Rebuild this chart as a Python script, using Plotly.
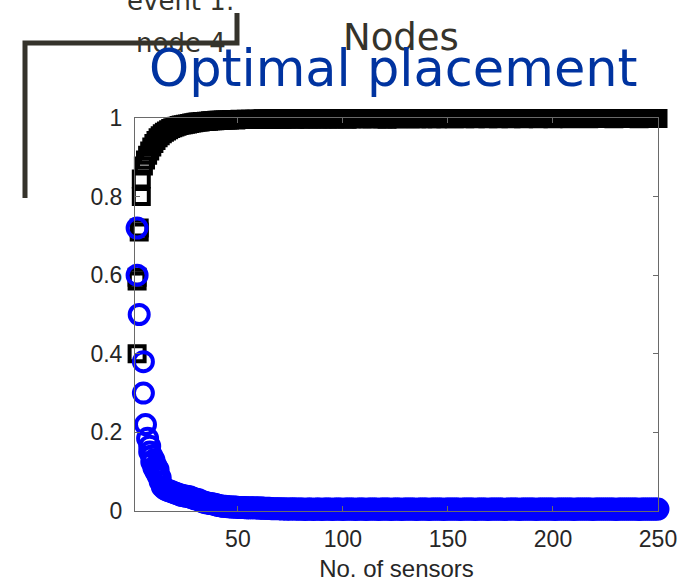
import plotly.graph_objects as go

# ---------------- data ----------------
# black squares (nodes) – early scattered points, then one value per sensor count
black_early_x = [2, 2, 2, 3, 3, 4, 4, 5]
black_early_y = [0.40, 0.595, 0.585, 0.72, 0.71, 0.80, 0.845, 0.878]
black_tail_start = 6
black_tail_y = [
    0.893, 0.905, 0.916, 0.926, 0.935, 0.943, 0.950, 0.955, 0.960, 0.964,
    0.967, 0.970, 0.973, 0.975, 0.977, 0.979, 0.981, 0.982, 0.983, 0.984,
    0.985, 0.986, 0.987, 0.988, 0.989, 0.990, 0.990, 0.991, 0.991, 0.992,
    0.992, 0.993, 0.993, 0.993, 0.994, 0.994, 0.994, 0.995, 0.995, 0.995,
    0.995, 0.996, 0.996, 0.995, 0.996, 0.997, 0.996, 0.996, 0.997, 0.996,
    0.997, 0.996, 0.997, 0.997, 0.996, 0.997, 0.998, 0.997, 0.997, 0.998,
    0.997, 0.998, 0.997, 0.998, 0.998, 0.997, 0.998, 0.998, 0.999, 0.998,
    0.998, 0.997, 0.998, 0.999, 0.998, 0.998, 0.999, 0.998, 0.997, 0.998,
    0.999, 0.998, 0.998, 0.999, 0.998, 0.999, 0.998, 0.997, 0.999, 0.998,
    0.998, 0.999, 0.998, 0.999, 0.999, 0.998, 0.997, 0.999, 0.998, 0.999,
    0.999, 0.998, 0.999, 0.998, 0.999, 0.999, 0.998, 0.999, 0.998, 0.999,
    0.998, 0.999, 0.999, 0.998, 0.999, 0.997, 0.999, 0.998, 0.999, 0.999,
    0.998, 0.999, 0.999, 0.998, 0.999, 0.999, 0.998, 0.999, 0.999, 0.998,
    0.999, 0.999, 0.998, 0.999, 0.999, 0.999, 0.998, 0.999, 0.999, 0.998,
    0.999, 0.999, 0.999, 0.998, 0.999, 0.999, 0.999, 0.998, 0.999, 0.999,
    0.999, 0.999, 0.998, 0.999, 0.999, 0.999, 0.999, 0.998, 0.999, 0.999,
    0.999, 0.999, 0.999, 0.998, 0.999, 0.999, 0.999, 0.999, 0.998, 0.999,
    0.999, 0.999, 0.999, 0.999, 0.998, 0.999, 0.999, 0.999, 0.999, 0.999,
    0.998, 0.999, 0.999, 0.999, 0.999, 0.999, 0.999, 0.998, 0.999, 0.999,
    0.999, 0.999, 0.999, 0.999, 0.998, 0.999, 0.999, 0.999, 0.999, 0.999,
    0.999, 0.999, 0.998, 0.999, 0.999, 0.999, 0.999, 0.999, 0.999, 0.999,
    0.999, 0.998, 0.999, 0.999, 0.999, 0.999, 0.999, 0.999, 0.999, 0.999,
    0.999, 0.999, 0.999, 0.998, 0.999, 0.999, 0.999, 0.999, 0.999, 0.999,
    0.999, 0.999, 0.999, 0.999, 0.999, 0.998, 0.999, 0.999, 0.999, 0.999,
    0.999, 0.999, 0.999, 0.999, 0.999,
]

# blue circles – early scattered points, then one value per sensor count
blue_early_x = [2, 2, 3, 5, 5, 6, 7, 8, 8, 9, 9, 10, 10, 11, 11, 12, 12, 13, 13]
blue_early_y = [0.72, 0.60, 0.50, 0.38, 0.30, 0.22, 0.185, 0.165, 0.15, 0.14,
                0.125, 0.13, 0.11, 0.115, 0.10, 0.105, 0.09, 0.085, 0.075]
blue_tail_start = 14
blue_tail_y = [
    0.062, 0.057, 0.054, 0.052, 0.050, 0.048, 0.046, 0.044, 0.042, 0.040,
    0.039, 0.038, 0.037, 0.036, 0.034, 0.032, 0.030, 0.029, 0.027, 0.024,
    0.022, 0.021, 0.020, 0.019, 0.018, 0.017, 0.015, 0.014, 0.013, 0.012,
    0.012, 0.011, 0.011, 0.010, 0.010, 0.010, 0.009, 0.009, 0.009, 0.009,
    0.008, 0.008, 0.008, 0.008, 0.008, 0.008, 0.007, 0.008, 0.007, 0.007,
    0.007, 0.007, 0.006, 0.006, 0.006, 0.006, 0.006, 0.005, 0.006, 0.005,
    0.005, 0.005, 0.006, 0.005, 0.005, 0.005, 0.005, 0.005, 0.004, 0.005,
    0.005, 0.005, 0.004, 0.005, 0.005, 0.005, 0.004, 0.005, 0.005, 0.005,
    0.005, 0.004, 0.005, 0.005, 0.005, 0.005, 0.004, 0.005, 0.005, 0.005,
    0.005, 0.005, 0.004, 0.005, 0.005, 0.005, 0.005, 0.004, 0.005, 0.005,
    0.005, 0.005, 0.005, 0.004, 0.005, 0.005, 0.005, 0.005, 0.005, 0.004,
    0.005, 0.005, 0.005, 0.005, 0.004, 0.005, 0.005, 0.005, 0.005, 0.005,
    0.005, 0.004, 0.005, 0.005, 0.005, 0.005, 0.005, 0.004, 0.005, 0.005,
    0.005, 0.005, 0.005, 0.005, 0.004, 0.005, 0.005, 0.005, 0.005, 0.005,
    0.005, 0.005, 0.004, 0.005, 0.005, 0.005, 0.005, 0.005, 0.005, 0.004,
    0.005, 0.005, 0.005, 0.005, 0.005, 0.004, 0.005, 0.005, 0.005, 0.005,
    0.005, 0.005, 0.005, 0.004, 0.005, 0.005, 0.005, 0.005, 0.005, 0.005,
    0.004, 0.005, 0.005, 0.005, 0.005, 0.005, 0.005, 0.005, 0.004, 0.005,
    0.005, 0.005, 0.005, 0.005, 0.005, 0.005, 0.005, 0.004, 0.005, 0.005,
    0.005, 0.005, 0.005, 0.005, 0.005, 0.005, 0.004, 0.005, 0.005, 0.005,
    0.005, 0.005, 0.005, 0.005, 0.005, 0.004, 0.005, 0.005, 0.005, 0.005,
    0.005, 0.005, 0.005, 0.005, 0.005, 0.005, 0.004, 0.005, 0.005, 0.005,
    0.005, 0.005, 0.005, 0.005, 0.005, 0.005, 0.005, 0.004, 0.005, 0.005,
    0.005, 0.005, 0.005, 0.005, 0.005, 0.005, 0.005,
]

x_tick_vals = [50, 100, 150, 200, 250]
x_tick_text = ["50", "100", "150", "200", "250"]
y_tick_vals = [0, 0.2, 0.4, 0.6, 0.8, 1.0]
y_tick_text = ["0", "0.2", "0.4", "0.6", "0.8", "1"]

title_text = "Optimal placement"
overlay_title = "Nodes"
callout_lines = ["event 1:", "node 4"]
x_label = "No. of sensors"

# ---------------- figure ----------------
W, H = 689, 585
ML, MR, MT, MB = 135, 31, 118, 74
PW, PH = W - ML - MR, H - MT - MB


def px(xp):
    return (xp - ML) / PW


def py(yp):
    return (H - MB - yp) / PH


black_x = black_early_x + list(range(black_tail_start, black_tail_start + len(black_tail_y)))
black_y = black_early_y + black_tail_y
blue_x = blue_early_x + list(range(blue_tail_start, blue_tail_start + len(blue_tail_y)))
blue_y = blue_early_y + blue_tail_y

fig = go.Figure()
fig.add_trace(go.Scatter(
    x=black_x, y=black_y, mode="markers", cliponaxis=False,
    marker=dict(symbol="square-open", size=15, color="#000000",
                line=dict(width=4, color="#000000")),
    showlegend=False, hoverinfo="skip"))
fig.add_trace(go.Scatter(
    x=blue_x, y=blue_y, mode="markers", cliponaxis=False,
    marker=dict(symbol="circle-open", size=19, color="#0000ff",
                line=dict(width=4, color="#0000ff")),
    showlegend=False, hoverinfo="skip"))

axis_common = dict(
    showline=True, linecolor="#6a6a6a", linewidth=1, mirror="ticks",
    ticks="inside", ticklen=5, tickwidth=1, tickcolor="#6a6a6a",
    showgrid=False, zeroline=False, automargin=False,
    tickfont=dict(family="Liberation Sans, Arial", size=23, color="#262626"),
)

fig.update_xaxes(range=[1, 250], tickvals=x_tick_vals, ticktext=x_tick_text,
                 ticklabelstandoff=7,
                 title=dict(text=x_label, standoff=9,
                            font=dict(family="Liberation Sans, Arial", size=24, color="#262626")),
                 **axis_common)
fig.update_yaxes(range=[0, 1], tickvals=y_tick_vals, ticktext=y_tick_text,
                 ticklabelstandoff=7, **axis_common)

# callout bracket lines
line_color = "#35332b"
fig.add_shape(type="path",
              path=f"M {px(25)},{py(198)} L {px(25)},{py(43)} L {px(237)},{py(43)} L {px(237)},{py(13)}",
              xref="paper", yref="paper", line=dict(color=line_color, width=5), layer="above")

ann_font = "DejaVu Sans"
fig.add_annotation(text=callout_lines[0], x=px(181), y=py(18), xref="paper", yref="paper",
                   xanchor="center", yanchor="bottom", showarrow=False,
                   font=dict(family=ann_font, size=26, color=line_color))
fig.add_annotation(text=callout_lines[1], x=px(181), y=py(60), xref="paper", yref="paper",
                   xanchor="center", yanchor="bottom", showarrow=False,
                   font=dict(family=ann_font, size=26, color=line_color))
fig.add_annotation(text=overlay_title, x=px(401), y=py(61), xref="paper", yref="paper",
                   xanchor="center", yanchor="bottom", showarrow=False,
                   font=dict(family=ann_font, size=37, color=line_color))
fig.add_annotation(text=title_text, x=px(393), y=py(100), xref="paper", yref="paper",
                   xanchor="center", yanchor="bottom", showarrow=False,
                   font=dict(family="DejaVu Sans", size=51, color="#0033a0"))

fig.update_layout(
    width=W, height=H, margin=dict(l=ML, r=MR, t=MT, b=MB, pad=0),
    paper_bgcolor="white", plot_bgcolor="white",
)

fig.write_html("out.html", config={"displayModeBar": False},
               post_script="document.body.style.margin='0';")
